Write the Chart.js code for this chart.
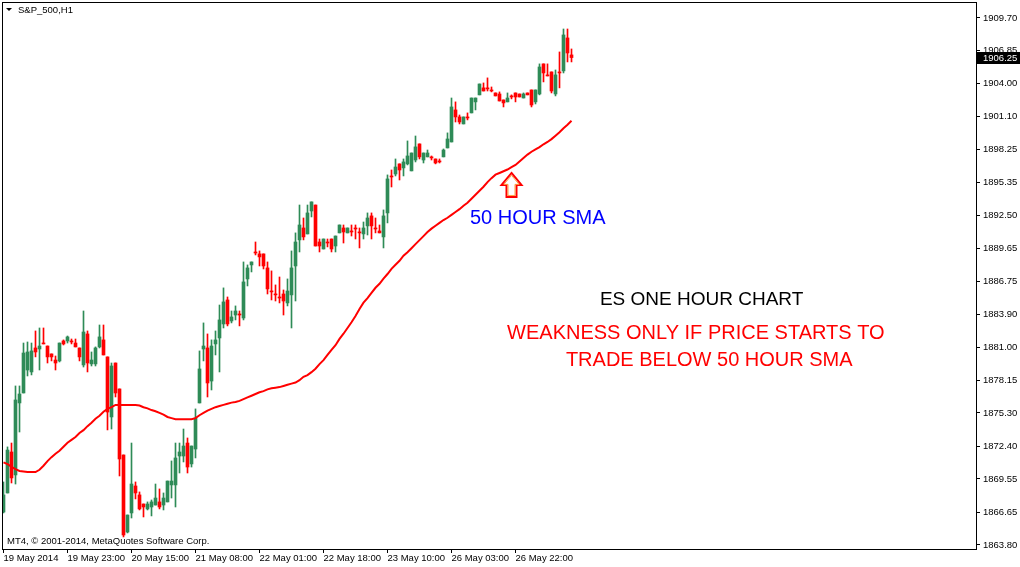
<!DOCTYPE html>
<html>
<head>
<meta charset="utf-8">
<script src="https://cdn.jsdelivr.net/npm/chart.js@4/dist/chart.umd.min.js"></script>
<style>
html,body{margin:0;padding:0;background:#fff;}
canvas{display:block;}
</style>
</head>
<body>
<canvas id="chart" width="1020" height="567"></canvas>
<script>
// ES hourly bars, oldest first
var open = [1866.67,1868.33,1871.90,1869.90,1876.17,1877.04,1879.04,1878.87,1880.96,1880.87,
1881.39,1881.13,1880.44,1879.91,1879.83,1881.57,1881.57,1881.57,1881.39,1880.96,
1879.48,1882.18,1879.57,1879.57,1881.05,1881.66,1880.18,1874.95,1879.65,1877.39,
1871.64,1864.93,1866.59,1868.94,1868.16,1867.37,1866.94,1867.11,1867.28,1867.55,
1867.28,1867.55,1869.03,1869.03,1871.55,1871.55,1872.68,1870.86,1872.16,1876.17,
1880.87,1880.96,1878.08,1881.31,1881.83,1883.05,1885.14,1883.31,1883.83,1883.92,
1883.57,1886.97,1888.19,1889.32,1889.15,1889.15,1887.93,1885.92,1885.66,1885.40,
1885.66,1884.88,1885.58,1888.10,1890.37,1891.41,1890.89,1892.89,1893.41,1890.19,
1889.58,1890.19,1890.45,1889.84,1890.98,1891.41,1890.98,1891.15,1891.41,1891.06,
1890.89,1891.59,1892.46,1891.41,1891.15,1890.63,1892.72,1895.94,1896.11,1896.99,
1896.64,1896.99,1896.38,1897.33,1898.73,1897.33,1897.60,1897.60,1897.42,1897.25,
1897.60,1898.38,1898.90,1901.69,1901.08,1900.47,1901.08,1901.43,1902.39,1903.00,
1903.61,1903.61,1903.43,1903.17,1903.08,1902.56,1902.39,1902.91,1903.17,1903.08,
1902.73,1903.17,1903.43,1902.39,1903.08,1905.70,1904.74,1905.00,1903.08,1905.00,
1905.09,1907.96,1906.48]
var high = [1869.29,1872.34,1872.68,1877.65,1877.65,1881.39,1881.48,1881.39,1882.44,1882.70,
1882.70,1881.13,1880.44,1880.26,1881.39,1881.66,1882.00,1881.74,1881.74,1880.96,
1884.18,1882.44,1880.61,1881.05,1882.96,1882.96,1880.18,1879.65,1879.65,1877.39,
1871.64,1866.41,1872.68,1869.29,1868.42,1867.37,1867.55,1867.72,1869.11,1868.68,
1868.33,1869.37,1871.12,1872.68,1872.68,1873.90,1873.12,1872.42,1875.65,1880.70,
1883.14,1882.18,1881.66,1882.44,1884.70,1886.19,1885.40,1884.18,1884.62,1884.18,
1888.45,1888.19,1888.45,1890.19,1889.41,1889.15,1888.45,1887.67,1886.45,1887.14,
1886.01,1886.97,1889.41,1890.98,1893.41,1892.28,1893.41,1893.68,1893.41,1890.45,
1890.45,1890.45,1890.45,1890.71,1891.67,1891.67,1891.41,1891.67,1891.67,1891.41,
1891.93,1892.72,1892.72,1892.28,1891.67,1892.98,1896.03,1896.46,1897.42,1896.99,
1897.42,1898.99,1897.94,1899.42,1898.73,1897.94,1898.20,1897.68,1897.42,1897.42,
1898.29,1899.69,1902.73,1902.39,1901.25,1901.08,1901.43,1902.73,1902.73,1903.95,
1904.04,1904.48,1903.69,1903.17,1903.26,1902.56,1903.17,1903.00,1903.17,1903.08,
1903.17,1903.17,1903.43,1903.43,1905.70,1905.70,1905.70,1905.00,1905.17,1906.74,
1908.74,1908.74,1907.00]
var low = [1866.59,1868.33,1869.20,1869.11,1873.64,1877.04,1878.52,1878.61,1880.18,1879.04,
1881.31,1879.65,1879.83,1879.04,1879.74,1881.22,1881.39,1881.31,1881.05,1879.83,
1879.30,1878.87,1879.39,1879.39,1880.96,1880.35,1873.82,1873.90,1876.69,1869.81,
1864.50,1864.85,1866.15,1867.81,1866.85,1866.24,1866.85,1866.33,1867.28,1866.94,
1866.85,1867.55,1867.89,1867.11,1870.07,1871.03,1870.07,1870.59,1871.38,1876.17,
1879.83,1876.69,1877.30,1880.35,1878.87,1882.70,1882.88,1883.14,1883.40,1882.88,
1883.40,1886.36,1887.58,1889.06,1888.10,1887.84,1885.66,1885.14,1885.05,1884.88,
1883.83,1884.62,1882.70,1885.05,1889.32,1890.37,1890.89,1892.37,1889.84,1889.32,
1889.58,1889.76,1889.32,1889.32,1890.98,1890.10,1890.98,1890.71,1890.45,1889.67,
1890.45,1890.80,1890.45,1890.98,1890.98,1889.67,1891.85,1894.98,1895.94,1895.59,
1895.94,1896.90,1896.38,1897.16,1897.42,1897.07,1897.60,1897.33,1896.99,1897.07,
1897.60,1898.38,1898.90,1900.64,1900.47,1900.47,1900.82,1901.43,1901.69,1903.00,
1903.34,1903.34,1903.26,1902.91,1902.47,1901.95,1902.39,1902.65,1902.39,1902.82,
1902.73,1903.00,1901.95,1902.21,1903.00,1904.13,1904.65,1903.17,1902.91,1903.61,
1904.91,1905.87,1905.87]
var close = [1868.16,1872.07,1869.64,1876.43,1876.95,1880.52,1880.61,1880.70,1880.61,1881.13,
1881.31,1880.18,1880.18,1879.65,1881.39,1881.31,1881.92,1881.48,1881.05,1880.18,
1882.35,1879.65,1879.91,1880.96,1881.92,1880.35,1875.38,1879.39,1877.04,1871.29,
1864.67,1866.41,1869.11,1868.33,1866.94,1867.11,1867.37,1867.55,1867.89,1867.11,
1867.89,1869.37,1869.37,1871.38,1871.90,1872.42,1870.59,1872.42,1874.86,1879.13,
1881.13,1877.91,1881.13,1881.66,1883.40,1884.97,1883.05,1883.66,1884.18,1883.83,
1886.71,1887.93,1888.45,1889.23,1888.89,1888.10,1886.10,1885.84,1885.58,1885.31,
1885.05,1885.92,1887.93,1890.19,1891.67,1890.63,1892.72,1893.68,1889.84,1889.84,
1890.45,1890.10,1889.58,1890.71,1891.67,1891.06,1891.41,1891.06,1891.32,1890.98,
1891.41,1892.28,1891.59,1891.32,1890.98,1892.46,1895.68,1895.85,1896.72,1896.46,
1897.16,1897.68,1897.94,1898.47,1897.60,1897.94,1897.94,1897.51,1897.07,1897.16,
1898.20,1899.16,1901.95,1901.08,1900.64,1901.08,1900.99,1902.73,1902.73,1903.95,
1903.34,1903.52,1903.34,1902.91,1902.47,1902.30,1902.73,1902.82,1902.82,1902.82,
1903.08,1903.00,1902.12,1903.43,1905.43,1904.91,1904.65,1903.34,1904.74,1904.91,
1908.22,1906.65,1906.25]
var sma50 = [1871.00,1870.85,1870.60,1870.40,1870.25,1870.20,1870.15,1870.15,1870.15,1870.35,
1870.70,1871.10,1871.45,1871.75,1872.00,1872.35,1872.70,1872.95,1873.20,1873.55,
1873.80,1874.15,1874.45,1874.80,1875.05,1875.40,1875.65,1875.80,1876.00,1876.00,
1876.00,1876.00,1876.00,1876.00,1875.95,1875.80,1875.70,1875.55,1875.45,1875.30,
1875.15,1874.95,1874.85,1874.75,1874.75,1874.75,1874.75,1874.75,1874.85,1875.10,
1875.30,1875.50,1875.65,1875.80,1875.90,1876.00,1876.10,1876.20,1876.25,1876.35,
1876.50,1876.65,1876.80,1876.95,1877.10,1877.20,1877.35,1877.45,1877.50,1877.55,
1877.65,1877.75,1877.85,1877.95,1878.15,1878.45,1878.60,1878.85,1879.15,1879.55,
1879.90,1880.35,1880.80,1881.20,1881.75,1882.20,1882.70,1883.20,1883.75,1884.35,
1884.90,1885.30,1885.75,1886.20,1886.55,1887.00,1887.40,1887.85,1888.20,1888.55,
1889.00,1889.30,1889.65,1890.00,1890.35,1890.70,1891.05,1891.35,1891.60,1891.85,
1892.10,1892.30,1892.55,1892.80,1893.05,1893.35,1893.60,1893.95,1894.30,1894.65,
1895.00,1895.40,1895.75,1896.05,1896.20,1896.35,1896.50,1896.70,1896.90,1897.20,
1897.50,1897.80,1898.05,1898.25,1898.45,1898.70,1898.90,1899.15,1899.45,1899.75,
1900.10,1900.40,1900.75]

var priceTicks = [1863.80,1866.65,1869.55,1872.40,1875.30,1878.15,1881.00,1883.90,1886.75,
1889.65,1892.50,1895.35,1898.25,1901.10,1904.00,1906.85,1909.70]
var timeLabels = ['19 May 2014','19 May 23:00','20 May 15:00','21 May 08:00','22 May 01:00',
'22 May 18:00','23 May 10:00','26 May 03:00','26 May 22:00']
var labelBars = [0,16,32,48,64,80,96,112,128]

var upColor = '#2e8b57'
var downColor = '#ff0000'
var tickFont = {family:'Liberation Sans', size:9.5}

var candleColor = close.map(function(c,i){
    return c > open[i] ? upColor : downColor
})

// text drawn on the chart, anchored to bar index / price
var notes = [
    {text:'50 HOUR SMA', bar:116.6, price:1891.75, color:'#0000ff', size:20},
    {text:'ES ONE HOUR CHART', bar:149.1, price:1884.7, color:'#000000', size:19},
    {text:'WEAKNESS ONLY IF PRICE STARTS TO', bar:125.9, price:1881.75, color:'#ff0000', size:20},
    {text:'TRADE BELOW 50 HOUR SMA', bar:140.6, price:1879.4, color:'#ff0000', size:20}
]

var mt4Plugin = {
    id:'mt4',
    beforeDraw: function(chart){
        var ctx = chart.ctx
        ctx.save()
        ctx.fillStyle = '#fff'
        ctx.fillRect(0,0,chart.width,chart.height)
        ctx.restore()
    },
    afterDraw: function(chart){
        var ctx = chart.ctx
        var a = chart.chartArea
        var xs = chart.scales.x
        var ys = chart.scales.y
        ctx.save()
        // frame
        ctx.strokeStyle = '#000'
        ctx.lineWidth = 1
        ctx.strokeRect(a.left+0.5, a.top+0.5, a.right-a.left, a.bottom-a.top)

        // header
        ctx.fillStyle = '#000'
        ctx.beginPath()
        ctx.moveTo(a.left+4, a.top+6)
        ctx.lineTo(a.left+10, a.top+6)
        ctx.lineTo(a.left+7, a.top+9)
        ctx.closePath()
        ctx.fill()
        ctx.font = '9.5px "Liberation Sans"'
        ctx.textBaseline = 'alphabetic'
        ctx.fillText('S&P_500,H1', a.left+16, a.top+11)
        ctx.fillText('MT4, \u00a9 2001-2014, MetaQuotes Software Corp.', a.left+5, a.bottom-5)

        // notes
        notes.forEach(function(n){
            ctx.font = n.size+'px "Liberation Sans"'
            ctx.fillStyle = n.color
            ctx.fillText(n.text, xs.getPixelForValue(n.bar), ys.getPixelForValue(n.price))
        })

        // arrow pointing at the SMA
        var tx = xs.getPixelForValue(127), ty = ys.getPixelForValue(1896.2)
        function arrow(inset){
            ctx.beginPath()
            ctx.moveTo(tx, ty+inset*1.6)
            ctx.lineTo(tx+10-inset*1.6, ty+12-inset*0.4)
            ctx.lineTo(tx+5-inset, ty+12-inset*0.4)
            ctx.lineTo(tx+5-inset, ty+24-inset)
            ctx.lineTo(tx-5+inset, ty+24-inset)
            ctx.lineTo(tx-5+inset, ty+12-inset*0.4)
            ctx.lineTo(tx-10+inset*1.6, ty+12-inset*0.4)
            ctx.closePath()
        }
        ctx.lineJoin = 'miter'
        arrow(0)
        ctx.strokeStyle = '#ff0000'
        ctx.lineWidth = 2
        ctx.stroke()
        arrow(1.5)
        ctx.strokeStyle = '#ffa040'
        ctx.lineWidth = 1
        ctx.stroke()

        // last price box
        var last = close[close.length-1]
        var py = Math.round(ys.getPixelForValue(last))
        ctx.fillStyle = '#000'
        ctx.fillRect(a.right+1, py-6, 43, 12)
        ctx.fillStyle = '#fff'
        ctx.font = '9.5px "Liberation Sans"'
        ctx.textBaseline = 'middle'
        ctx.fillText(last.toFixed(2), a.right+7, py+0.5)
        ctx.restore()
    }
}

var chart = new Chart(document.getElementById('chart'),{
    type:'bar',
    data:{
        datasets:[
            {
                type:'line',
                label:'SMA 50',
                data: sma50.map(function(v,i){ return {x:i, y:v} }),
                borderColor:'#ff0000',
                borderWidth:2,
                pointRadius:0,
                tension:0,
                order:0
            },
            {
                label:'body',
                data: open.map(function(o,i){ return {x:i, y:[Math.min(o,close[i]), Math.max(o,close[i])]} }),
                backgroundColor: candleColor,
                barThickness:3,
                minBarLength:1,
                grouped:false,
                order:1
            },
            {
                label:'wick',
                data: low.map(function(l,i){ return {x:i, y:[l, high[i]]} }),
                backgroundColor: candleColor,
                barThickness:1,
                minBarLength:1,
                grouped:false,
                order:2
            }
        ]
    },
    options:{
        responsive:false,
        animation:false,
        devicePixelRatio:1,
        layout:{padding:{left:2, top:2, right:0, bottom:0}},
        plugins:{legend:{display:false}, tooltip:{enabled:false}},
        scales:{
            x:{
                type:'linear',
                min:-0.375,
                max:243.125,
                offset:false,
                afterBuildTicks: function(s){
                    s.ticks = labelBars.map(function(v){ return {value:v} })
                },
                afterFit: function(s){
                    s.height = 18
                    s.paddingLeft = 0
                    s.paddingRight = 0
                },
                ticks:{
                    autoSkip:false, maxRotation:0, minRotation:0, align:'start',
                    padding:0, color:'#000', font:tickFont,
                    callback: function(v){ return timeLabels[labelBars.indexOf(v)] }
                },
                grid:{drawOnChartArea:false, offset:false, tickLength:4, color:'#000'},
                border:{display:true, color:'#000'}
            },
            y:{
                type:'linear',
                position:'right',
                min:1863.45,
                max:1911.09,
                afterBuildTicks: function(s){
                    s.ticks = priceTicks.map(function(v){ return {value:v} })
                },
                afterFit: function(s){
                    s.width = 44
                    s.paddingTop = 0
                    s.paddingBottom = 0
                },
                ticks:{
                    autoSkip:false, padding:3, color:'#000', font:tickFont,
                    callback: function(v){ return v.toFixed(2) }
                },
                grid:{drawOnChartArea:false, tickLength:4, color:'#000'},
                border:{display:true, color:'#000'}
            }
        }
    },
    plugins:[mt4Plugin]
});
</script>
</body>
</html>
